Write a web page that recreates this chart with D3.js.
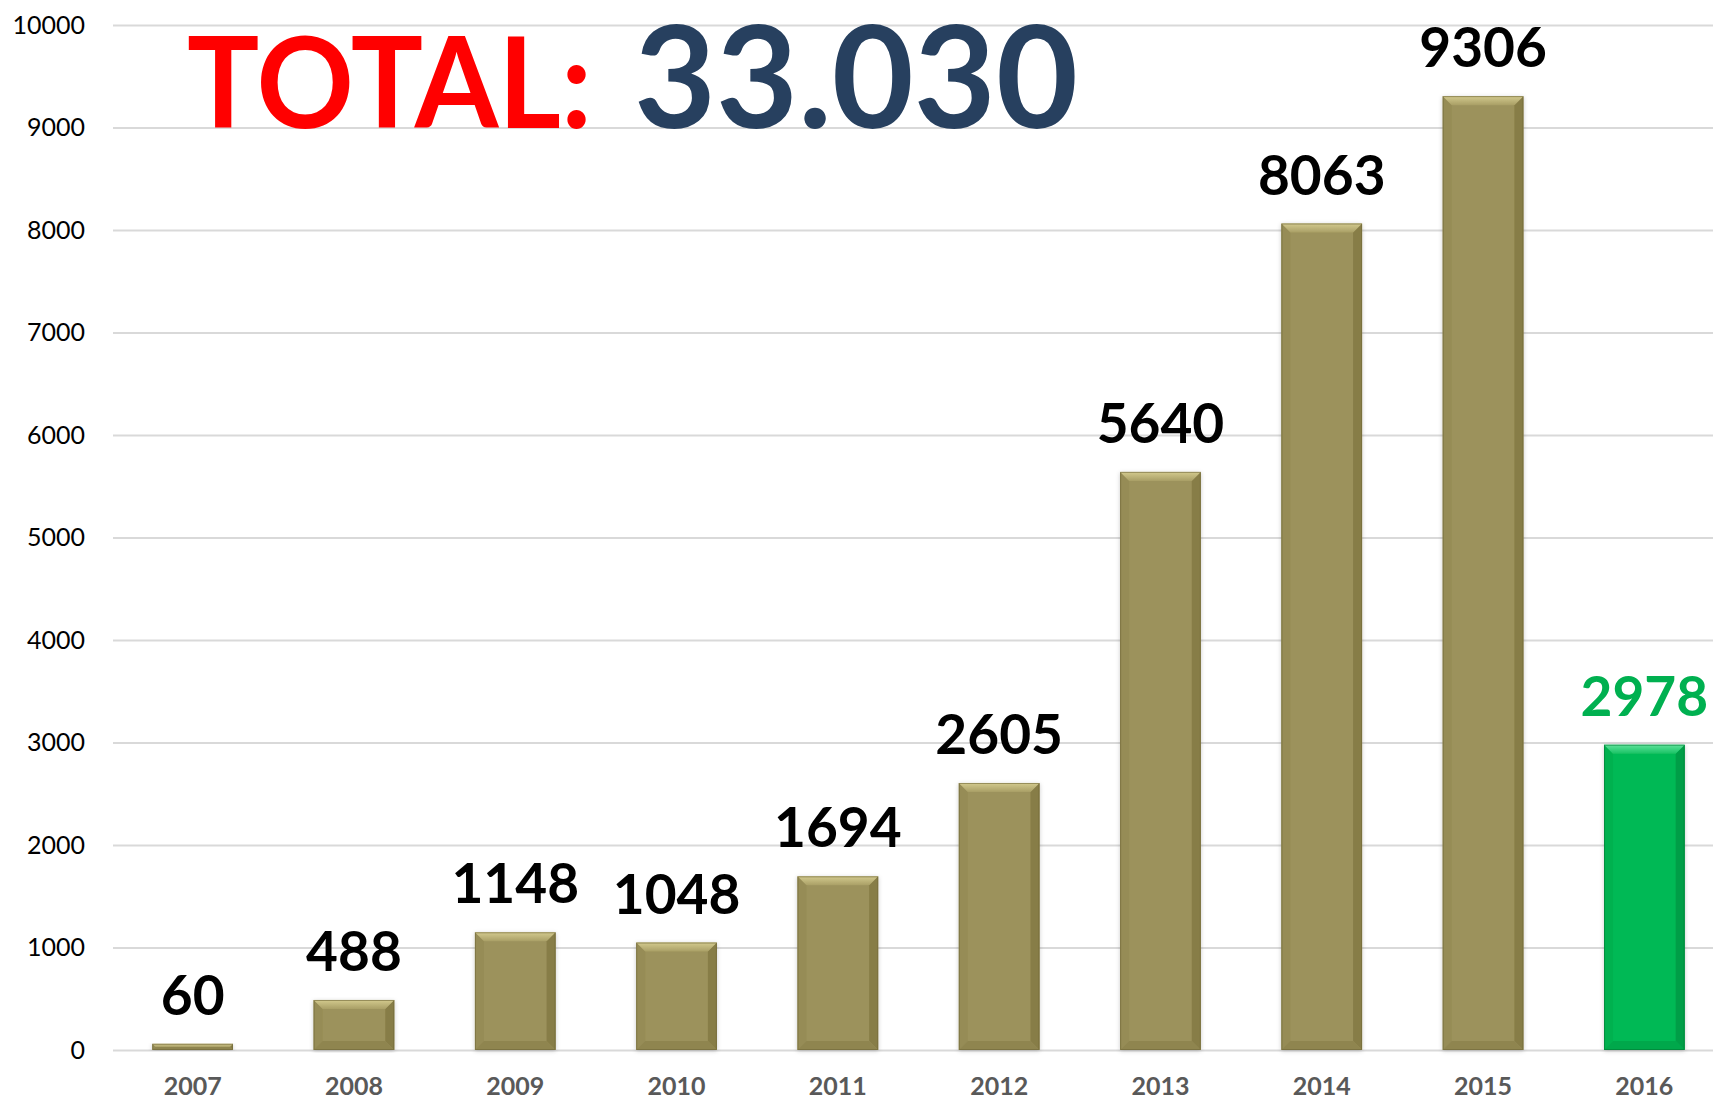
<!DOCTYPE html>
<html>
<head>
<meta charset="utf-8">
<script src="https://cdn.jsdelivr.net/npm/d3@7"></script>
<style>
	body { margin: 0; background: #fff; }
	svg { display: block; font-family: Lato, "Open Sans", sans-serif; }
</style>
</head>
<body>
<div id="chart"></div>
<script>
//Dados
var years = ["2007", "2008", "2009", "2010", "2011", "2012", "2013", "2014", "2015", "2016"];
var counts = [60, 488, 1148, 1048, 1694, 2605, 5640, 8063, 9306, 2978];
var highlightYear = "2016";
var yTicks = [0, 1000, 2000, 3000, 4000, 5000, 6000, 7000, 8000, 9000, 10000];
var totalLabel = "TOTAL:";
var totalValue = "33.030";

(function () {
	'use strict';
	var width = 1713, height = 1101;
	var margin = {top: 25, left: 113, bottom: 51};

	var data = years.map(function(d, i) { return {year: d, value: counts[i]}; });

	var svg = d3.select("#chart").append("svg")
		.attr("width", width)
		.attr("height", height);

	//Escalas
	var x = d3.scaleBand()
		.domain(years)
		.range([112, 1725])
		.paddingInner(0.5)
		.paddingOuter(0.25);
	var y = d3.scaleLinear()
		.domain([0, 10000])
		.range([height - margin.bottom, margin.top]);

	//Gradientes das barras
	var defs = svg.append("defs");
	var palettes = {
		olive: {main: "#9c925b", top: ["#d3ca8e", "#a99f66"], left: "#968c56", right: "#877d47", bottom: "#8f8550", edge: "#6f6739"},
		green: {main: "#04b955", top: ["#5fe29a", "#17c264"], left: "#03b150", right: "#029e46", bottom: "#03a84b", edge: "#027a36"}
	};
	Object.keys(palettes).forEach(function(k) {
		var g = defs.append("linearGradient")
			.attr("id", "top-" + k)
			.attr("x1", 0).attr("y1", 0).attr("x2", 0).attr("y2", 1);
		g.append("stop").attr("offset", "0%").attr("stop-color", palettes[k].top[0]);
		g.append("stop").attr("offset", "100%").attr("stop-color", palettes[k].top[1]);
	});
	defs.append("filter")
		.attr("id", "shadow")
		.attr("x", "-20%").attr("y", "-5%").attr("width", "140%").attr("height", "110%")
		.append("feDropShadow")
		.attr("dx", 0).attr("dy", 1)
		.attr("stdDeviation", 2)
		.attr("flood-color", "#000")
		.attr("flood-opacity", 0.2);

	//Eixo Y com linhas de grade
	var yAxis = svg.append("g")
		.attr("class", "axis-y")
		.attr("transform", "translate(" + margin.left + ",0)")
		.call(d3.axisLeft(y)
			.tickValues(yTicks)
			.tickFormat(d3.format("d"))
			.tickSize(-(width - margin.left))
			.tickPadding(28));
	yAxis.select(".domain").remove();
	yAxis.selectAll(".tick line")
		.attr("stroke", "#d9d9d9")
		.attr("stroke-width", 2);
	yAxis.selectAll(".tick text")
		.attr("fill", "#000")
		.style("font-size", "25px")
		.style("font-family", "Lato, sans-serif");

	//Eixo X
	var xAxis = svg.append("g")
		.attr("class", "axis-x")
		.attr("transform", "translate(0," + y(0) + ")")
		.call(d3.axisBottom(x).tickSize(0).tickPadding(27));
	xAxis.select(".domain").remove();
	xAxis.selectAll(".tick text")
		.attr("fill", "#595959")
		.style("font-size", "25px")
		.style("font-weight", "bold")
		.style("font-family", "Lato, sans-serif");

	//Titulo
	var title = svg.append("g").attr("class", "title");
	title.append("text")
		.attr("x", 187)
		.attr("y", 128)
		.attr("fill", "#ff0000")
		.attr("textLength", 405)
		.attr("lengthAdjust", "spacingAndGlyphs")
		.style("font-size", "127px")
		.style("font-weight", "bold")
		.text(totalLabel);
	title.append("text")
		.attr("x", 634)
		.attr("y", 128)
		.attr("fill", "#27405f")
		.attr("textLength", 444)
		.attr("lengthAdjust", "spacingAndGlyphs")
		.style("font-size", "142px")
		.style("font-weight", "bold")
		.text(totalValue);

	//Barras com chanfro
	var bev = 9;
	var poly = function(pts) { return "M" + pts.map(function(p) { return p.join(","); }).join("L") + "Z"; };
	var bars = svg.selectAll(".bar")
		.data(data)
		.enter()
		.append("g")
		.attr("class", "bar")
		.attr("filter", "url(#shadow)");
	bars.each(function(d) {
		var pal = d.year == highlightYear ? "green" : "olive";
		var c = palettes[pal];
		var x0 = x(d.year), x1 = x(d.year) + x.bandwidth();
		var y0 = y(d.value), y1 = y(0);
		var b = Math.min(bev, (y1 - y0) / 2);
		var g = d3.select(this);
		g.append("rect")
			.attr("x", x0).attr("y", y0)
			.attr("width", x1 - x0).attr("height", y1 - y0)
			.attr("fill", c.main);
		g.append("path")
			.attr("d", poly([[x0, y0], [x0 + b, y0 + b], [x0 + b, y1 - b], [x0, y1]]))
			.attr("fill", c.left);
		g.append("path")
			.attr("d", poly([[x1, y0], [x1 - b, y0 + b], [x1 - b, y1 - b], [x1, y1]]))
			.attr("fill", c.right);
		g.append("path")
			.attr("d", poly([[x0, y1], [x0 + b, y1 - b], [x1 - b, y1 - b], [x1, y1]]))
			.attr("fill", c.bottom);
		g.append("path")
			.attr("d", poly([[x0, y0], [x1, y0], [x1 - b, y0 + b], [x0 + b, y0 + b]]))
			.attr("fill", "url(#top-" + pal + ")");
		g.append("rect")
			.attr("x", x0 + 0.5).attr("y", y0 + 0.5)
			.attr("width", x1 - x0 - 1).attr("height", y1 - y0 - 1)
			.attr("fill", "none")
			.attr("stroke", c.edge)
			.attr("stroke-opacity", 0.6)
			.attr("stroke-width", 1);
	});

	//Rotulos de valores
	svg.selectAll(".value-label")
		.data(data)
		.enter()
		.append("text")
		.attr("class", "value-label")
		.attr("x", function(d) { return x(d.year) + x.bandwidth() / 2; })
		.attr("y", function(d) { return y(d.value) - 29; })
		.attr("text-anchor", "middle")
		.attr("fill", function(d) { return d.year == highlightYear ? "#00b050" : "#000"; })
		.style("font-size", "55px")
		.style("font-weight", "bold")
		.text(function(d) { return d.value; });
}());
</script>
</body>
</html>
